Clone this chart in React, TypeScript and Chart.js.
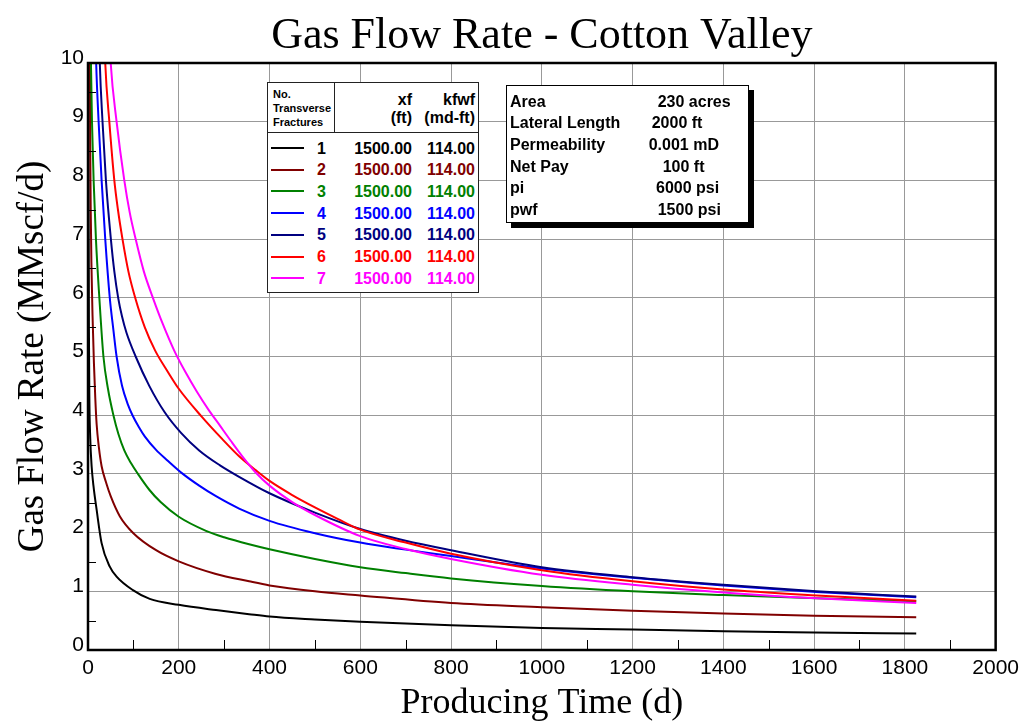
import React, { useEffect, useRef } from "react";
import { Chart, registerables } from "chart.js";

Chart.register(...registerables);

// ---------- text ----------
const CHART_TITLE = "Gas Flow Rate - Cotton Valley";
const X_AXIS_TITLE = "Producing Time (d)";
const Y_AXIS_TITLE = "Gas Flow Rate (MMscf/d)";

// ---------- axes ----------
const X_MIN = 0;
const X_MAX = 2000;
const X_MINOR_STEP = 100;
const xTickValues = [0, 200, 400, 600, 800, 1000, 1200, 1400, 1600, 1800, 2000];
const xTickLabels = ["0", "200", "400", "600", "800", "1000", "1200", "1400", "1600", "1800", "2000"];
const Y_MIN = 0;
const Y_MAX = 10;
const Y_MINOR_STEP = 0.5;
const yTickValues = [0, 1, 2, 3, 4, 5, 6, 7, 8, 9, 10];
const yTickLabels = ["0", "1", "2", "3", "4", "5", "6", "7", "8", "9", "10"];

// ---------- legend table ----------
const fractureLabels = ["1", "2", "3", "4", "5", "6", "7"];
const xfValues = ["1500.00", "1500.00", "1500.00", "1500.00", "1500.00", "1500.00", "1500.00"];
const kfwfValues = ["114.00", "114.00", "114.00", "114.00", "114.00", "114.00", "114.00"];
const seriesColors = ["#000000", "#800000", "#008000", "#0000ff", "#000080", "#ff0000", "#ff00ff"];

// ---------- reservoir info ----------
const infoLabels = ["Area", "Lateral Length", "Permeability", "Net Pay", "pi", "pwf"];
const infoValues = ["230 acres", "2000 ft", "0.001 mD", "100 ft", "6000 psi", "1500 psi"];

// ---------- series: producing time (d) and gas rate (MMscf/d) ----------
const time1 = [0.6, 1.2, 2, 3, 5, 8, 12, 19, 30, 48, 63, 99, 136, 200, 282, 355, 400, 500, 600, 800, 1000, 1200, 1400, 1600, 1825];
const rate1 = [11, 8, 5.5, 4.3, 3.6, 3.13, 2.8, 2.39, 1.82, 1.42, 1.25, 1.02, 0.87, 0.77, 0.68, 0.61, 0.57, 0.52, 0.48, 0.42, 0.375, 0.35, 0.32, 0.3, 0.28];

const time2 = [3.8, 4.2, 5, 6, 7.5, 10, 13, 16, 19, 24, 30, 40, 50, 70, 100, 150, 200, 280, 355, 400, 500, 600, 800, 1000, 1200, 1400, 1600, 1825];
const rate2 = [11, 10, 8.5, 7.5, 6.6, 5.7, 4.9, 4.3, 3.85, 3.45, 3.13, 2.85, 2.62, 2.28, 1.99, 1.7, 1.51, 1.3, 1.17, 1.1, 1.0, 0.93, 0.8, 0.73, 0.67, 0.62, 0.585, 0.56];

const time3 = [5, 6.5, 8.8, 12.4, 17.5, 25, 34, 44, 56, 67, 80, 95, 110, 135, 160, 200, 260, 300, 355, 400, 500, 600, 700, 800, 1000, 1200, 1400, 1605, 1825];
const rate3 = [11, 10, 9, 8, 7, 6, 5, 4.45, 4, 3.68, 3.4, 3.18, 3, 2.73, 2.52, 2.27, 2.03, 1.92, 1.8, 1.715, 1.55, 1.41, 1.31, 1.22, 1.09, 1.0, 0.935, 0.88, 0.83];

const time4 = [15, 18, 23.4, 30, 38, 48, 56, 63, 75, 88, 98, 112, 125, 150, 175, 209, 245, 282, 333, 400, 500, 600, 700, 800, 900, 1000, 1200, 1400, 1605, 1825];
const rate4 = [11, 10, 9, 8, 7, 6, 5.45, 5, 4.5, 4.18, 4, 3.8, 3.64, 3.41, 3.23, 3, 2.8, 2.62, 2.41, 2.2, 1.99, 1.83, 1.71, 1.6, 1.49, 1.39, 1.23, 1.1, 0.99, 0.9];

const time5 = [23, 26, 32, 39.5, 50.4, 58, 66.5, 75, 85, 105, 135, 169, 205, 245, 290, 333, 400, 500, 600, 700, 800, 1000, 1200, 1400, 1605, 1825];
const rate5 = [11, 10, 9, 8, 7, 6.45, 6, 5.68, 5.4, 5, 4.5, 4.05, 3.7, 3.4, 3.15, 2.95, 2.67, 2.34, 2.06, 1.86, 1.7, 1.41, 1.24, 1.11, 1.0, 0.91];

const time6 = [34, 38, 47, 58, 66, 76, 89, 104, 125, 148, 175, 200, 250, 295, 333, 370, 400, 450, 500, 550, 600, 700, 800, 1000, 1200, 1400, 1605, 1825];
const rate6 = [11, 10, 9, 8, 7.5, 7, 6.45, 6, 5.5, 5.1, 4.75, 4.45, 3.98, 3.6, 3.3, 3.06, 2.88, 2.64, 2.43, 2.235, 2.05, 1.83, 1.64, 1.36, 1.17, 1.03, 0.93, 0.84];

const time7 = [44, 50, 63, 80, 92, 105, 123, 143, 165, 190, 215, 240, 265, 290, 315, 340, 370, 400, 450, 500, 600, 700, 800, 1000, 1200, 1400, 1605, 1825];
const rate7 = [11, 10, 9, 8, 7.45, 7, 6.45, 6, 5.55, 5.1, 4.73, 4.4, 4.1, 3.83, 3.56, 3.3, 3.02, 2.8, 2.52, 2.3, 1.94, 1.72, 1.55, 1.28, 1.11, 0.98, 0.88, 0.8];

const seriesTimes = [time1, time2, time3, time4, time5, time6, time7];
const seriesRates = [rate1, rate2, rate3, rate4, rate5, rate6, rate7];

// ---------- styles ----------
const SERIF = '"Liberation Serif", "Times New Roman", serif';
const SANS = '"Liberation Sans", Arial, sans-serif';
const GRID_COLOR = "#999999";

const framePlugin = {
  id: "frame",
  afterDatasetsDraw(chart: any) {
    const { ctx, chartArea: a, scales } = chart;
    const xs = scales.x;
    const ys = scales.y;
    ctx.save();
    ctx.strokeStyle = "#000";
    ctx.lineWidth = 1;
    ctx.beginPath();
    for (let v = X_MIN + X_MINOR_STEP; v < X_MAX; v += 2 * X_MINOR_STEP) {
      const px = Math.round(xs.getPixelForValue(v)) + 0.5;
      ctx.moveTo(px, a.bottom);
      ctx.lineTo(px, a.bottom - 10);
    }
    for (let v = Y_MIN + Y_MINOR_STEP; v < Y_MAX; v += 2 * Y_MINOR_STEP) {
      const py = Math.round(ys.getPixelForValue(v)) + 0.5;
      ctx.moveTo(a.left, py);
      ctx.lineTo(a.left + 8, py);
    }
    ctx.stroke();
    ctx.lineWidth = 2.5;
    ctx.strokeRect(a.left, a.top, a.right - a.left, a.bottom - a.top);
    ctx.restore();
  },
};

function buildConfig(): any {
  const datasets = seriesTimes.map((ts, i) => ({
    label: fractureLabels[i],
    data: ts.map((t, j) => ({ x: t, y: seriesRates[i][j] })),
    borderColor: seriesColors[i],
    backgroundColor: seriesColors[i],
    borderWidth: 2,
    pointRadius: 0,
    fill: false,
    cubicInterpolationMode: "monotone",
    order: seriesTimes.length - i,
  }));
  return {
    type: "line",
    data: { datasets },
    plugins: [framePlugin],
    options: {
      responsive: false,
      animation: false,
      layout: { padding: { left: 0, right: 25, top: 0, bottom: 0 } },
      plugins: {
        legend: { display: false },
        tooltip: { enabled: false },
        title: {
          display: true,
          fullSize: false,
          text: CHART_TITLE,
          color: "#000",
          font: { family: SERIF, size: 44, weight: "normal", lineHeight: 1 },
          padding: { top: 14, bottom: 5 },
        },
      },
      scales: {
        x: {
          type: "linear",
          min: X_MIN,
          max: X_MAX,
          afterFit: (s: any) => {
            s.height = 74;
          },
          ticks: {
            stepSize: X_MINOR_STEP,
            autoSkip: false,
            maxRotation: 0,
            color: "#000",
            padding: 6,
            font: { family: SANS, size: 21 },
            callback: (v: number) => {
              const k = xTickValues.indexOf(v);
              return k >= 0 ? xTickLabels[k] : "";
            },
          },
          grid: {
            drawTicks: false,
            lineWidth: 1,
            color: (c: any) => (c.tick && xTickValues.indexOf(c.tick.value) >= 0 ? GRID_COLOR : "rgba(0,0,0,0)"),
          },
          border: { display: false },
          title: {
            display: true,
            text: X_AXIS_TITLE,
            color: "#000",
            font: { family: SERIF, size: 36, weight: "normal", lineHeight: 1 },
            padding: { top: 0, bottom: 2 },
          },
        },
        y: {
          type: "linear",
          min: Y_MIN,
          max: Y_MAX,
          afterFit: (s: any) => {
            s.width = 88;
          },
          ticks: {
            stepSize: Y_MINOR_STEP,
            autoSkip: false,
            color: "#000",
            padding: 4,
            labelOffset: -5,
            font: { family: SANS, size: 21 },
            callback: (v: number) => {
              const k = yTickValues.indexOf(v);
              return k >= 0 ? yTickLabels[k] : "";
            },
          },
          grid: {
            drawTicks: false,
            lineWidth: 1,
            color: (c: any) => (c.tick && yTickValues.indexOf(c.tick.value) >= 0 ? GRID_COLOR : "rgba(0,0,0,0)"),
          },
          border: { display: false },
          title: {
            display: true,
            text: Y_AXIS_TITLE,
            color: "#000",
            font: { family: SERIF, size: 37, weight: "normal", lineHeight: 1 },
            padding: { top: 15, bottom: 0 },
          },
        },
      },
    },
  };
}

const abs = (style: React.CSSProperties): React.CSSProperties => ({ position: "absolute", whiteSpace: "nowrap", ...style });

function LegendTable() {
  const bold16: React.CSSProperties = { font: `bold 16px ${SANS}`, lineHeight: "16px" };
  return (
    <div style={abs({ left: 267, top: 82, width: 210, height: 209, border: "1px solid #222", background: "#fff" })}>
      <div style={abs({ left: 0, top: 0, width: 66, height: 49, borderRight: "1px solid #222" })} />
      <div style={abs({ left: 0, top: 49, width: 210, height: 0, borderTop: "1px solid #222" })} />
      <div style={abs({ left: 5, top: 4, font: `bold 11px ${SANS}`, lineHeight: "14px", color: "#000" })}>
        No.<br />Transverse<br />Fractures
      </div>
      <div style={abs({ left: 70, width: 74, top: 9, textAlign: "right", ...bold16 })}>xf</div>
      <div style={abs({ left: 70, width: 74, top: 27, textAlign: "right", ...bold16 })}>(ft)</div>
      <div style={abs({ left: 140, width: 67, top: 9, textAlign: "right", ...bold16 })}>kfwf</div>
      <div style={abs({ left: 140, width: 67, top: 27, textAlign: "right", ...bold16 })}>(md-ft)</div>
      {fractureLabels.map((lab, i) => {
        const top = 57.5 + 21.7 * i;
        const color = seriesColors[i];
        return (
          <React.Fragment key={lab}>
            <div style={abs({ left: 3, top: top + 6.5, width: 33, height: 2, background: color })} />
            <div style={abs({ left: 30, width: 28, top, textAlign: "right", color, ...bold16 })}>{lab}</div>
            <div style={abs({ left: 70, width: 74, top, textAlign: "right", color, ...bold16 })}>{xfValues[i]}</div>
            <div style={abs({ left: 140, width: 67, top, textAlign: "right", color, ...bold16 })}>{kfwfValues[i]}</div>
          </React.Fragment>
        );
      })}
    </div>
  );
}

const infoValueLeft = [150.7, 144.7, 141.7, 155.7, 149, 150.7];

function InfoBox() {
  const bold16: React.CSSProperties = { font: `bold 16px ${SANS}`, lineHeight: "16px", color: "#000" };
  return (
    <div style={abs({ left: 506, top: 85, width: 241, height: 136, border: "1px solid #000", background: "#fff", boxShadow: "5px 5px 0 #000" })}>
      {infoLabels.map((lab, i) => {
        const top = 7.5 + 21.7 * i;
        return (
          <React.Fragment key={lab}>
            <div style={abs({ left: 3, top, ...bold16 })}>{lab}</div>
            <div style={abs({ left: infoValueLeft[i], top, ...bold16 })}>{infoValues[i]}</div>
          </React.Fragment>
        );
      })}
    </div>
  );
}

export default function App() {
  const canvasRef = useRef<HTMLCanvasElement>(null);
  useEffect(() => {
    const chart = new Chart(canvasRef.current as HTMLCanvasElement, buildConfig());
    return () => chart.destroy();
  }, []);
  return (
    <div style={{ position: "absolute", left: 0, top: 0, width: 1025, height: 724, background: "#fff", overflow: "hidden" }}>
      <canvas ref={canvasRef} width={1025} height={724} style={{ position: "absolute", left: 0, top: 0 }} />
      <LegendTable />
      <InfoBox />
    </div>
  );
}
